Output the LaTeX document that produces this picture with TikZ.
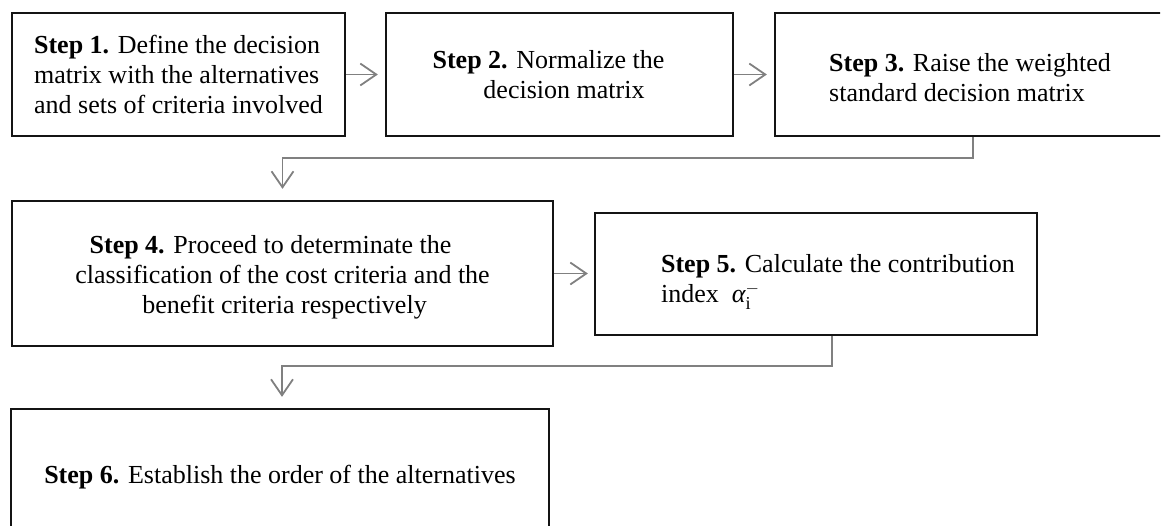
\documentclass[tikz,border=0pt]{standalone}
\usepackage{fontspec}
\setmainfont{Liberation Serif}
\usetikzlibrary{arrows.meta}
\begin{document}
\begin{tikzpicture}[x=1pt,y=-1pt,
  box/.style={draw=black!92,line width=2.3pt,inner sep=0pt,font=\fontsize{26}{30}\selectfont},
  conn/.style={draw=black!50,line width=1.8pt,-{Straight Barb[length=16pt,width=22pt]}}]
\useasboundingbox (0,0) rectangle (1161,525);
\clip (0,0) rectangle (1160,525);
\node[box,minimum width=333pt,minimum height=123pt,align=left] (b1) at (178.5,74.5)
  {\textbf{Step 1.} Define the decision\\matrix with the alternatives\\and sets of criteria involved};
\node[box,minimum width=347pt,minimum height=123pt,align=center] (b2) at (559.5,74.5)
  {\textbf{Step 2.} Normalize the\hspace*{22pt}\\\hspace*{9pt}decision matrix};
\node[box,minimum width=420pt,minimum height=123pt,align=left] (b3) at (985,74.5)
  {\rule{0pt}{25pt}\textbf{Step 3.} Raise the weighted\hspace*{30pt}\\standard decision matrix};
\node[box,minimum width=541pt,minimum height=145pt,align=center] (b4) at (282.5,273.5)
  {\rule{0pt}{25pt}\textbf{Step 4.} Proceed to determinate the\hspace*{24pt}\\classification of the cost criteria and the\hspace*{24pt}\\\hspace*{4pt}benefit criteria respectively};
\node[box,minimum width=442pt,minimum height=122pt,align=left] (b5) at (816,274)
  {\rule{0pt}{34pt}\hspace*{44pt}\textbf{Step 5.} Calculate the contribution\\\hspace*{44pt}index\ \ $\mbox{\itshape α}_{\mathrm{i}}^{-}$};
\node[box,minimum width=538pt,minimum height=130pt,align=center] (b6) at (280,474)
  {\rule{0pt}{24pt}\textbf{Step 6.} Establish the order of the alternatives};
\coordinate (m1) at (0,158);
\coordinate (m2) at (0,366);
\draw[conn,shorten >=7pt] (b1.east) -- (b2.west);
\draw[conn,shorten >=7pt] (b2.east) -- (b3.west);
\draw[conn,shorten >=11pt] ([xshift=-12pt]b3.south) |- (b4.north |- m1) -- (b4.north);
\draw[conn,shorten >=6pt] (b4.east) -- (b4.east -| b5.west);
\draw[conn,shorten >=11pt] ([xshift=16pt]b5.south) |- ([xshift=2pt]b6.north |- m2) -- ([xshift=2pt]b6.north);
\end{tikzpicture}
\end{document}
